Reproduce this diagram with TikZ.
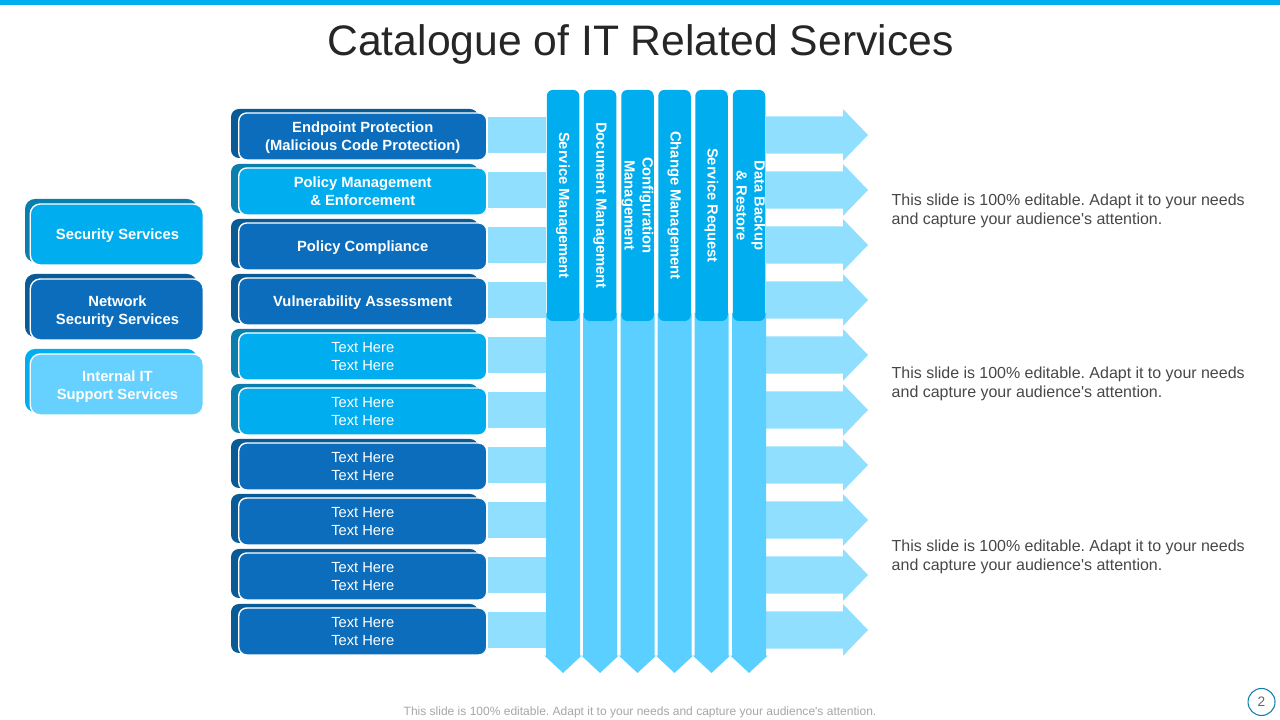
\documentclass[tikz,border=0pt]{standalone}
\usepackage{fontspec}
\setmainfont{Liberation Sans}
\usepackage{xcolor}
\usetikzlibrary{shapes.arrows}

\definecolor{navy}{HTML}{0B6DBB}
\definecolor{navyback}{HTML}{0A5A96}
\definecolor{cyan}{HTML}{00ADEF}
\definecolor{cyanback}{HTML}{0A7FAD}
\definecolor{sky}{HTML}{66D0FF}
\definecolor{colsky}{HTML}{5BCFFF}
\definecolor{pale}{HTML}{91DFFF}

\tikzset{
    boxtext/.style = {text = white, align = center, inner sep = 0pt, text depth = -0.5pt,
        font = \fontsize{4.2}{5.15}\selectfont\bfseries},
    plaintext/.style = {boxtext, font = \fontsize{4.18}{5.15}\selectfont},
    rowback/.style = {rounded corners = 0.08cm, minimum width = 2.47cm,
        minimum height = 0.49cm, inner sep = 0pt},
    rowfront/.style = {boxtext, draw = white, line width = 0.4pt, rounded corners = 0.08cm,
        minimum width = 2.48cm, minimum height = 0.47cm},
    sideback/.style = {rounded corners = 0.1cm, minimum width = 1.72cm,
        minimum height = 0.63cm, inner sep = 0pt},
    sidefront/.style = {boxtext, draw = white, line width = 0.4pt, rounded corners = 0.1cm,
        minimum width = 1.73cm, minimum height = 0.61cm},
    stubbar/.style = {fill = pale, minimum width = 0.58cm, minimum height = 0.36cm, inner sep = 0pt},
    rowarrow/.style = {shape = single arrow, fill = pale, anchor = west, inner xsep = 0pt,
        inner ysep = 0.18cm, outer sep = 0pt, minimum width = 0.495cm, minimum height = 1.02cm,
        single arrow head extend = 0.07cm, single arrow tip angle = 92},
    coldown/.style = {shape = single arrow, fill = colsky, inner ysep = 0pt, outer sep = 0pt,
        inner xsep = 0.163cm, minimum width = 0.36cm, minimum height = 3.6cm,
        single arrow head extend = 0.017cm, single arrow tip angle = 94, shape border rotate = 270,
        anchor = south},
    coltop/.style = {fill = cyan, rounded corners = 0.06cm, minimum width = 0.325cm,
        minimum height = 2.31cm, inner sep = 0pt},
    collabel/.style = {boxtext, rotate = -90},
    notetext/.style = {text = black!72, anchor = west, inner sep = 0pt, text width = 3.53cm,
        align = justify, font = \fontsize{4.55}{5.4}\selectfont\frenchspacing}
}

\begin{document}
\begin{tikzpicture}
    \useasboundingbox (0, 0) rectangle (12.8, 7.2);

    % top bar and title
    \fill[cyan] (0, 7.15) rectangle (12.8, 7.2);
    \node[inner sep = 0pt, text = black!85, font = \fontsize{12.14}{15}\selectfont] (title) at (6.405, 6.76)
        {Catalogue of IT Related Services};

    % bars between the rows and the columns
    \node[stubbar] (stuba) at (5.17, 5.85) {};
    \node[stubbar] (stubb) at (5.17, 5.30) {};
    \node[stubbar] (stubc) at (5.17, 4.75) {};
    \node[stubbar] (stubd) at (5.17, 4.20) {};
    \node[stubbar] (stube) at (5.17, 3.65) {};
    \node[stubbar] (stubf) at (5.17, 3.10) {};
    \node[stubbar] (stubg) at (5.17, 2.55) {};
    \node[stubbar] (stubh) at (5.17, 2.00) {};
    \node[stubbar] (stubi) at (5.17, 1.45) {};
    \node[stubbar] (stubj) at (5.17, 0.90) {};

    % arrows to the right
    \node[rowarrow] (arrowa) at (7.66, 5.85) {};
    \node[rowarrow] (arrowb) at (7.66, 5.30) {};
    \node[rowarrow] (arrowc) at (7.66, 4.75) {};
    \node[rowarrow] (arrowd) at (7.66, 4.20) {};
    \node[rowarrow] (arrowe) at (7.66, 3.65) {};
    \node[rowarrow] (arrowf) at (7.66, 3.10) {};
    \node[rowarrow] (arrowg) at (7.66, 2.55) {};
    \node[rowarrow] (arrowh) at (7.66, 2.00) {};
    \node[rowarrow] (arrowi) at (7.66, 1.45) {};
    \node[rowarrow] (arrowj) at (7.66, 0.90) {};

    % side boxes
    \node[sideback, fill = cyanback] (sideaback) at (1.11, 4.895) {};
    \node[sidefront, fill = cyan] (sidea) at (1.1675, 4.855) {};
    \node[boxtext] (sidealabel) at (1.175, 4.86) {Security Services};
    \node[sideback, fill = navyback] (sidebback) at (1.11, 4.145) {};
    \node[sidefront, fill = navy] (sideb) at (1.1675, 4.105) {};
    \node[boxtext] (sideblabel) at (1.175, 4.10) {Network\\Security Services};
    \node[sideback, fill = cyan] (sidecback) at (1.11, 3.395) {};
    \node[sidefront, fill = sky] (sidec) at (1.1675, 3.355) {};
    \node[boxtext] (sideclabel) at (1.175, 3.35) {Internal IT\\Support Services};

    % rows
    \node[rowback, fill = navyback] (rowaback) at (3.545, 5.865) {};
    \node[rowfront, fill = navy] (rowa) at (3.6275, 5.835)
        {Endpoint Protection\\(Malicious Code Protection)};
    \node[rowback, fill = cyanback] (rowbback) at (3.545, 5.315) {};
    \node[rowfront, fill = cyan] (rowb) at (3.6275, 5.285)
        {Policy Management\\\& Enforcement};
    \node[rowback, fill = navyback] (rowcback) at (3.545, 4.765) {};
    \node[rowfront, fill = navy] (rowc) at (3.6275, 4.735) {Policy Compliance};
    \node[rowback, fill = navyback] (rowdback) at (3.545, 4.215) {};
    \node[rowfront, fill = navy] (rowd) at (3.6275, 4.185) {Vulnerability Assessment};
    \node[rowback, fill = cyanback] (roweback) at (3.545, 3.665) {};
    \node[rowfront, plaintext, fill = cyan] (rowe) at (3.6275, 3.635) {Text Here\\Text Here};
    \node[rowback, fill = cyanback] (rowfback) at (3.545, 3.115) {};
    \node[rowfront, plaintext, fill = cyan] (rowf) at (3.6275, 3.085) {Text Here\\Text Here};
    \node[rowback, fill = navyback] (rowgback) at (3.545, 2.565) {};
    \node[rowfront, plaintext, fill = navy] (rowg) at (3.6275, 2.535) {Text Here\\Text Here};
    \node[rowback, fill = navyback] (rowhback) at (3.545, 2.015) {};
    \node[rowfront, plaintext, fill = navy] (rowh) at (3.6275, 1.985) {Text Here\\Text Here};
    \node[rowback, fill = navyback] (rowiback) at (3.545, 1.465) {};
    \node[rowfront, plaintext, fill = navy] (rowi) at (3.6275, 1.435) {Text Here\\Text Here};
    \node[rowback, fill = navyback] (rowjback) at (3.545, 0.915) {};
    \node[rowfront, plaintext, fill = navy] (rowj) at (3.6275, 0.885) {Text Here\\Text Here};

    % columns
    \node[coldown] (cola) at (5.63, 0.47) {};
    \node[coldown] (colb) at (6.00, 0.47) {};
    \node[coldown] (colc) at (6.375, 0.47) {};
    \node[coldown] (cold) at (6.745, 0.47) {};
    \node[coldown] (cole) at (7.115, 0.47) {};
    \node[coldown] (colf) at (7.49, 0.47) {};

    \node[coltop] (colatop) at (5.63, 5.145) {};
    \node[coltop] (colbtop) at (6.00, 5.145) {};
    \node[coltop] (colctop) at (6.375, 5.145) {};
    \node[coltop] (coldtop) at (6.745, 5.145) {};
    \node[coltop] (coletop) at (7.115, 5.145) {};
    \node[coltop] (colftop) at (7.49, 5.145) {};

    \node[collabel] (colalabel) at (5.645, 5.145) {Service Management};
    \node[collabel] (colblabel) at (6.015, 5.145) {Document Management};
    \node[collabel] (colclabel) at (6.39, 5.145) {Configuration\\Management};
    \node[collabel] (coldlabel) at (6.76, 5.145) {Change Management};
    \node[collabel] (colelabel) at (7.13, 5.145) {Service Request};
    \node[collabel] (colflabel) at (7.51, 5.145) {Data Backup\\\& Restore};

    % notes on the right
    \node[notetext] (notea) at (8.91, 5.09)
        {This slide is 100\% editable. Adapt it to your needs and capture your audience\textquotesingle s attention.};
    \node[notetext] (noteb) at (8.91, 3.36)
        {This slide is 100\% editable. Adapt it to your needs and capture your audience\textquotesingle s attention.};
    \node[notetext] (notec) at (8.91, 1.63)
        {This slide is 100\% editable. Adapt it to your needs and capture your audience\textquotesingle s attention.};

    % footer and page number
    \node[inner sep = 0pt, text = black!35, font = \fontsize{3.42}{4}\selectfont\frenchspacing] (footer) at (6.4, 0.075)
        {This slide is 100\% editable. Adapt it to your needs and capture your audience\textquotesingle s attention.};
    \node[circle, draw = cyanback, line width = 0.3pt, minimum size = 0.27cm, inner sep = 0pt,
        text = black!60, font = \fontsize{3.9}{4.5}\selectfont] (pagenum) at (12.615, 0.18) {2};
\end{tikzpicture}
\end{document}
